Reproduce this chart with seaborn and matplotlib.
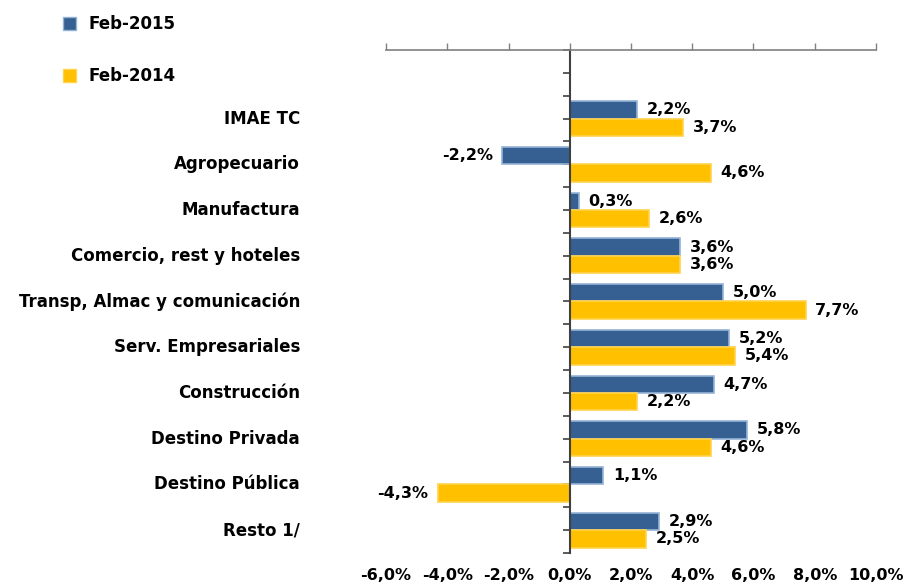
import numpy as np
import pandas as pd
import matplotlib
matplotlib.use("Agg")
import matplotlib.pyplot as plt
import seaborn as sns
from matplotlib.ticker import FuncFormatter

categories = ["IMAE TC", "Agropecuario", "Manufactura", "Comercio, rest y hoteles",
              "Transp, Almac y comunicación", "Serv. Empresariales", "Construcción",
              "Destino Privada", "Destino Pública", "Resto 1/"]
feb_2015 = [2.2, -2.2, 0.3, 3.6, 5.0, 5.2, 4.7, 5.8, 1.1, 2.9]
feb_2014 = [3.7, 4.6, 2.6, 3.6, 7.7, 5.4, 2.2, 4.6, -4.3, 2.5]
series = ["Feb-2015", "Feb-2014"]
x_ticks = [-6, -4, -2, 0, 2, 4, 6, 8, 10]

colors = {"Feb-2015": "#366092", "Feb-2014": "#FFC000"}
edges = {"Feb-2015": "#95B3D7", "Feb-2014": "#FFD34D"}


def pct(v, pos=None):
    return f"{v:.1f}%".replace(".", ",")


def main():
    df = pd.DataFrame({
        "cat": categories * 2,
        "serie": [series[0]] * len(categories) + [series[1]] * len(categories),
        "valor": feb_2015 + feb_2014,
    })

    sns.set_style("white")
    plt.rcParams["font.family"] = ["DejaVu Sans"]
    plt.rcParams["font.weight"] = "bold"
    plt.rcParams["text.color"] = "black"
    plt.rcParams["xtick.labelcolor"] = "black"

    fig = plt.figure(figsize=(9.07, 5.86), dpi=100)
    ax = fig.add_axes([0.4256, 0.0563, 0.5402, 0.8584])

    sns.barplot(data=df, y="cat", x="valor", hue="serie", hue_order=series,
                order=categories, palette=colors, orient="h", width=0.76,
                saturation=1, ax=ax, legend=False)

    # edges and data labels
    for cont, name in zip(ax.containers, series):
        for bar in cont:
            bar.set_edgecolor(edges[name])
            bar.set_linewidth(1.2)
        ax.bar_label(cont, labels=[pct(v) for v in cont.datavalues], padding=7,
                     fontsize=11.5, fontweight="bold", color="black")

    ax.set_xlim(-6, 10)
    ax.set_ylim(9.5, -1.5)
    ax.set_xlabel("")
    ax.set_ylabel("")

    # x axis: ticks on top spine, labels at bottom
    ax.set_xticks(x_ticks)
    ax.xaxis.set_major_formatter(FuncFormatter(pct))
    ax.tick_params(axis="x", bottom=False, top=True, labelbottom=True, labeltop=False,
                   direction="out", length=5, width=1, color="#808080",
                   labelsize=11.5, labelcolor="black", pad=6)
    for lab in ax.get_xticklabels():
        lab.set_fontweight("bold")

    # y axis through zero with ticks every half category
    ax.spines["left"].set_position(("data", 0))
    ax.spines["left"].set_color("#404040")
    ax.spines["left"].set_linewidth(1.5)
    ax.spines["top"].set_color("#808080")
    ax.spines["top"].set_linewidth(1.2)
    ax.spines["right"].set_visible(False)
    ax.spines["bottom"].set_visible(False)
    ax.set_yticks(np.arange(-1.5, 9.6, 0.5))
    ax.set_yticklabels([])
    ax.tick_params(axis="y", left=True, direction="out", length=5, width=1.2,
                   color="#404040")

    # category names on the left
    for i, c in enumerate(categories):
        ax.text(-0.1755, i, c, transform=ax.get_yaxis_transform(), ha="right",
                va="center", fontsize=12, fontweight="bold", color="black")

    handles = [plt.Rectangle((0, 0), 1, 1, facecolor=colors[s], edgecolor=edges[s])
               for s in series]
    leg = fig.legend(handles, series, loc="upper left", bbox_to_anchor=(0.053, 1.0),
                     frameon=False, handlelength=0.8, handleheight=0.8, handletextpad=0.7,
                     labelspacing=2.05, prop={"size": 12, "weight": "bold"})
    for t in leg.get_texts():
        t.set_color("black")

    fig.savefig("out.png", dpi=100)


if __name__ == "__main__":
    main()
